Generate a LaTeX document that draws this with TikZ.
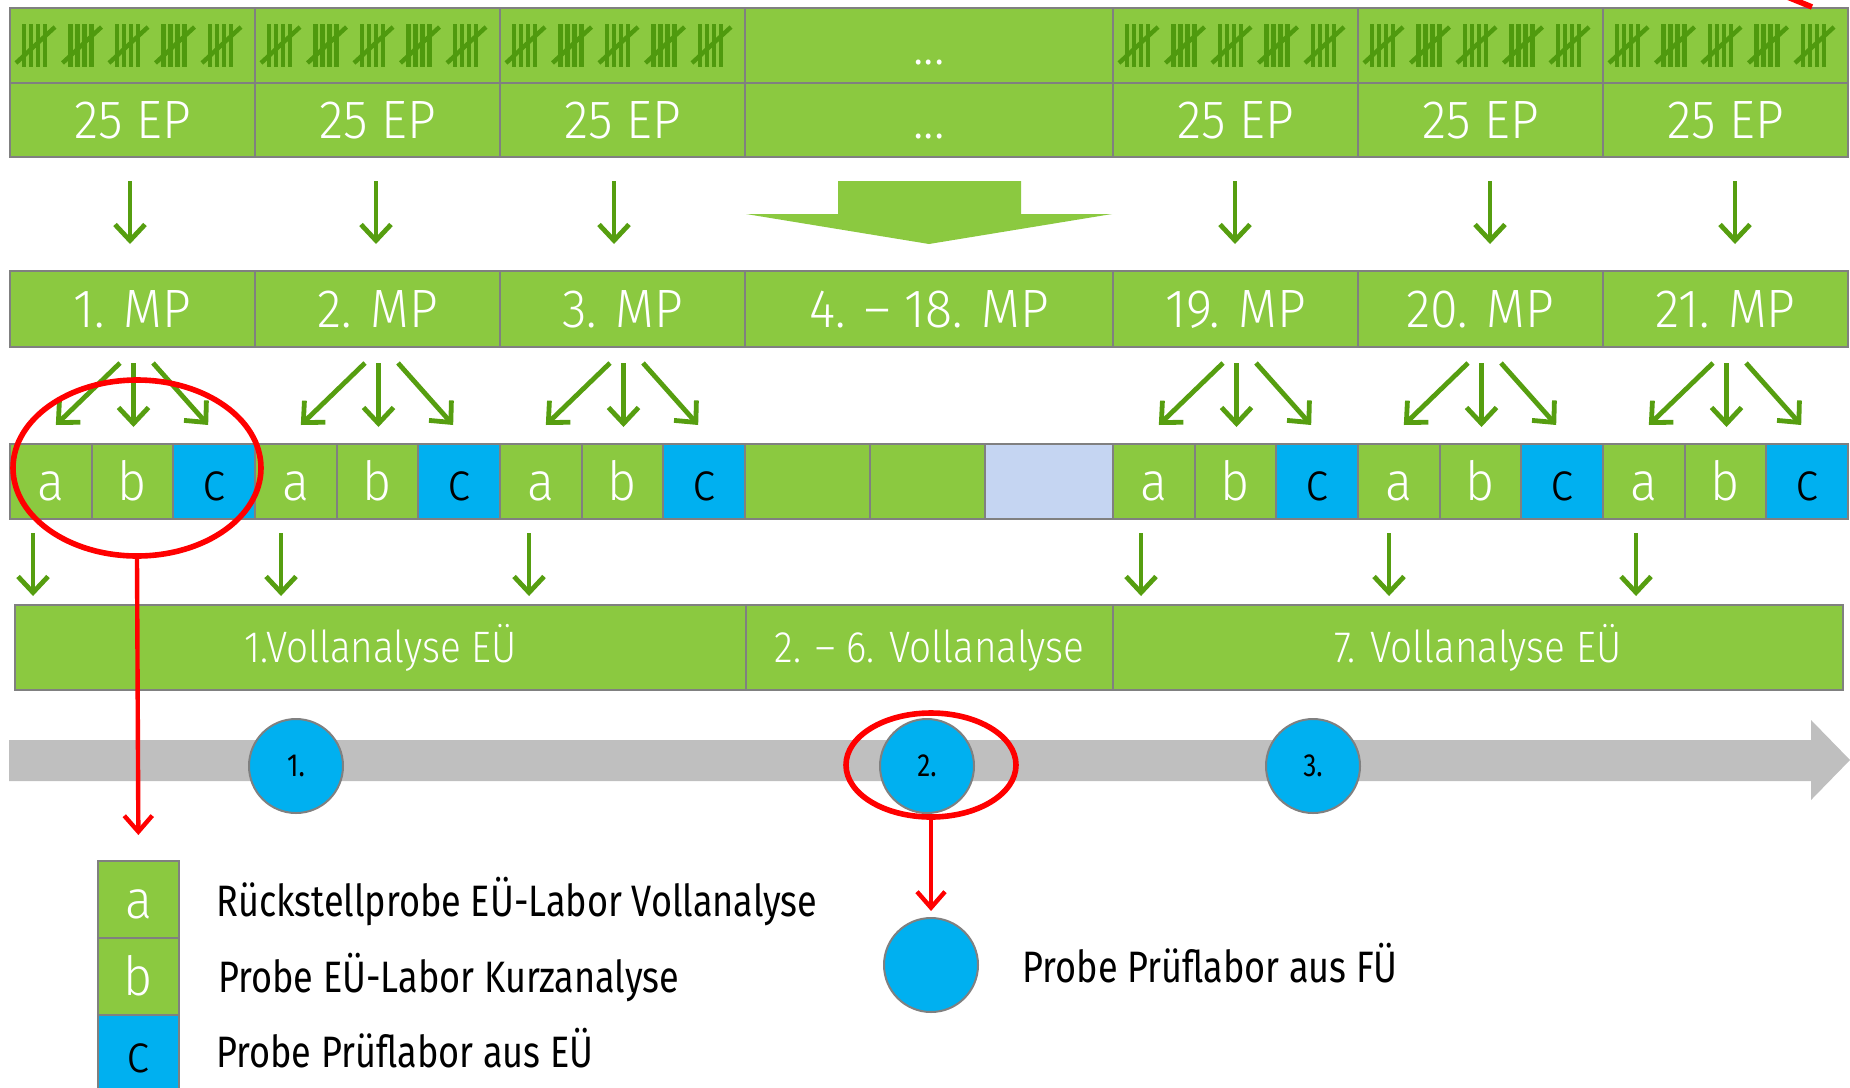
\documentclass[tikz,border=0pt]{standalone}
\usepackage{fontspec}
\setmainfont{Fira Sans}[FakeStretch=0.82]
\newfontfamily\lightf{Fira Sans Light}[FakeStretch=0.93]
\newfontfamily\lightm{Fira Sans Light}[FakeStretch=0.88]
\usetikzlibrary{arrows.meta,calc,shapes.geometric}

\definecolor{cgreen}{HTML}{8BC940}
\definecolor{tgreen}{HTML}{4F9A0E}
\definecolor{agreen}{HTML}{569E10}
\definecolor{ccyan}{HTML}{00B0F0}
\definecolor{clblue}{HTML}{C5D5F2}
\definecolor{cgray}{HTML}{808080}
\definecolor{tlgray}{HTML}{BFBFBF}
\definecolor{cred}{HTML}{FF0000}

\begin{document}
\begin{tikzpicture}[x=0.5pt,y=-0.5pt,
  cellbox/.style={draw=cgray, line width=1pt, fill=cgreen, inner sep=0pt, outer sep=0pt, text=white},
  sz/.style 2 args={minimum width=#1*0.5pt, minimum height=#2*0.5pt},
  bigtext/.style={font=\lightf\fontsize{27}{30}\selectfont, text height=18.6pt, text depth=0pt},
  midtext/.style={font=\lightm\fontsize{22}{26}\selectfont, text height=15.2pt, text depth=0pt},
  legtext/.style={font=\fontsize{22}{26}\selectfont, text height=15.2pt, text depth=0pt, anchor=west, inner sep=0pt, text=black},
  tally/.style={draw=tgreen, line width=2.2pt},
  garrow/.style={draw=agreen, line width=2.4pt, -{Straight Barb[length=8pt,width=15pt]}},
  rarrow/.style={draw=cred, line width=2.2pt, -{Straight Barb[length=8pt,width=14pt]}},
  circ/.style={circle, draw=cgray, line width=1pt, fill=ccyan, minimum size=47pt, inner sep=0pt, font=\fontsize{16}{18}\selectfont, text=black},
  redring/.style={ellipse, draw=cred, line width=2.8pt, inner sep=0pt}
]
\useasboundingbox (0,0) rectangle (1850,1087);

% top rows
\foreach \i/\L/\W/\tx/\ep/\mp in {
  1/10/245/{}/25 EP/1. MP,
  2/255/245/{}/25 EP/2. MP,
  3/500/245/{}/25 EP/3. MP,
  4/745/368/{...}/{...}/4. – 18. MP,
  5/1113/245/{}/25 EP/19. MP,
  6/1358/245/{}/25 EP/20. MP,
  7/1603/245/{}/25 EP/21. MP} {
  \node[cellbox, sz={\W}{75}, bigtext] (t\i) at (\L+\W/2,45.5) {\tx};
  \node[cellbox, sz={\W}{74}, bigtext] (ep\i) at (\L+\W/2,120) {\ep};
  \node[cellbox, sz={\W}{76}, bigtext] (mp\i) at (\L+\W/2,309) {\mp};
}

% tally marks
\foreach \L in {10,255,500,1113,1358,1603} {
  \foreach \k in {0,...,4} {
    \begin{scope}[shift={(\L+14+\k*46.5,0)}]
      \foreach \b in {0,7,14,21} \draw[tally] (\b,24) -- (\b,67);
      \draw[tally] (-8,63) -- (31,27);
    \end{scope}
  }
}

% top arrows EP -> MP
\foreach \i/\dx in {1/-2.5,2/-1.5,3/-8.5,5/-0.5,6/9.5,7/9.5} {
  \coordinate (e\i) at ($(ep\i.south)+(\dx,0)$);
  \draw[garrow, shorten <=12pt, shorten >=13.5pt] (e\i) -- (e\i |- mp\i.north);
}
% big arrow
\fill[cgreen] (838,181) -- (1021,181) -- (1021,214) -- (1112,214) -- (929,244) -- (746,214) -- (838,214) -- cycle;

% Vollanalyse row
\node[cellbox, sz={731}{85}, midtext] (v1) at (380.5,647.5) {1.Vollanalyse EÜ};
\node[cellbox, sz={367}{85}, midtext] (v2) at (929.5,647.5) {2. – 6. Vollanalyse};
\node[cellbox, sz={730}{85}, midtext] (v3) at (1478,647.5) {7. Vollanalyse EÜ};

% abc cells
\foreach \i/\L in {1/10,2/255,3/500,5/1113,6/1358,7/1603} {
  \node[cellbox, sz={81.67}{75}, bigtext] (a\i) at (\L+40.83,481.5) {a};
  \node[cellbox, sz={81.67}{75}, bigtext] (b\i) at (\L+122.5,481.5) {b};
  \node[cellbox, fill=ccyan, text=black, sz={81.67}{75}, bigtext] (c\i) at (\L+204.17,481.5) {c};
  \draw[garrow] ($(mp\i.south)+(-12.5,16)$) -- ($(a\i.north)+(5,-19)$);
  \draw[garrow] ($(mp\i.south)+(1,16)$) -- ($(b\i.north)+(1,-17)$);
  \draw[garrow] ($(mp\i.south)+(20.5,16)$) -- ($(c\i.north)+(-6,-19)$);
}
\node[cellbox, sz={125}{75}] (m1) at (807.5,481.5) {};
\node[cellbox, sz={115}{75}] (m2) at (927.5,481.5) {};
\node[cellbox, fill=clblue, sz={128}{75}] (m3) at (1049,481.5) {};

% arrows a -> Vollanalyse
\foreach \i/\dx/\v in {1/-17.8/v1,2/-14.8/v1,3/-11.8/v1,5/-12.8/v3,6/-9.8/v3,7/-7.8/v3} {
  \coordinate (s\i) at ($(a\i.south)+(\dx,0)$);
  \draw[garrow, shorten <=7pt, shorten >=4.5pt] (s\i) -- (s\i |- \v.north);
}

% timeline
\fill[tlgray] (9,740) -- (1811,740) -- (1811,720) -- (1850,760) -- (1811,800) -- (1811,781) -- (9,781) -- cycle;
\node[circ] (tl1) at (296,766) {1.};
\node[circ] (tl2) at (927,766) {2.};
\node[circ] (tl3) at (1313,766) {3.};

% legend
\node[cellbox, sz={81}{77}, bigtext] (la) at (138.5,899.5) {a};
\node[cellbox, sz={81}{77}, bigtext] (lb) at (138.5,976.5) {b};
\node[cellbox, fill=ccyan, text=black, sz={81}{77}, bigtext] (lc) at (138.5,1053.5) {c};
\node[legtext] (lta) at (216,901) {Rückstellprobe EÜ-Labor Vollanalyse};
\node[legtext] (ltb) at (218,977) {Probe EÜ-Labor Kurzanalyse};
\node[legtext] (ltc) at (216,1052) {Probe Prüflabor aus EÜ};
\node[circ] (lcirc) at (931,965) {};
\node[legtext] (ltd) at (1022,967) {Probe Prüflabor aus FÜ};

% red highlights
\node[redring, minimum width=124pt, minimum height=88pt] (re1) at (137,468) {};
\node[redring, minimum width=85pt, minimum height=52pt] (re2) at (931,765) {};
\draw[rarrow, shorten >=13pt] (re1.south) -- (la.north);
\draw[rarrow, shorten >=3pt] (re2.south) -- (lcirc.north);
\draw[draw=cred, line width=2.8pt] (1780,-6) -- (1812,7);
\end{tikzpicture}
\end{document}
